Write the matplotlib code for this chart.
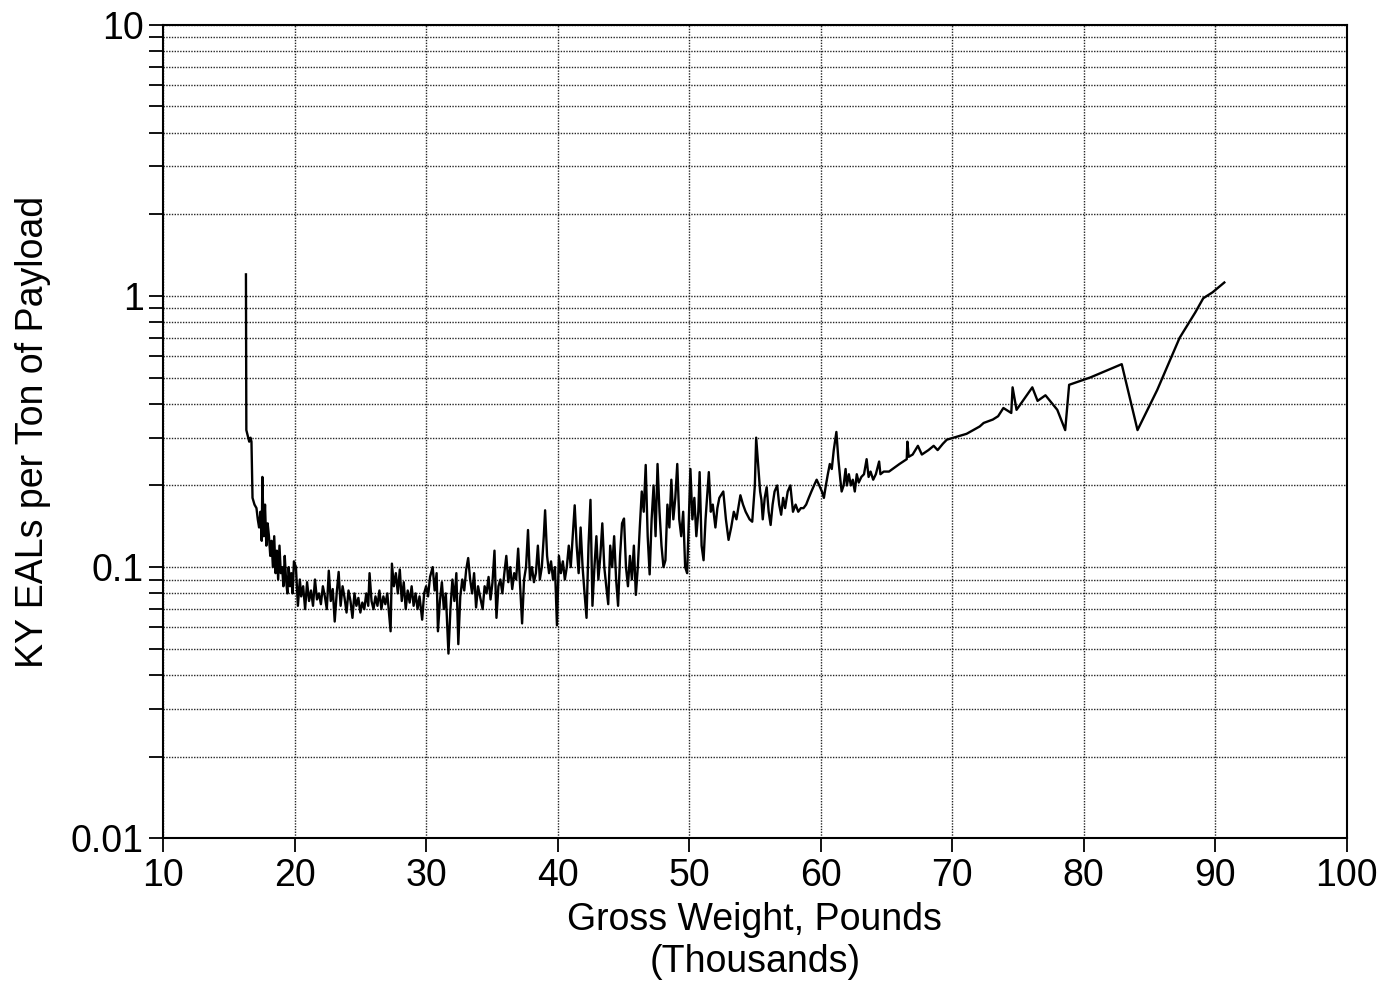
import matplotlib
matplotlib.use("Agg")
import matplotlib.pyplot as plt
from matplotlib.ticker import LogLocator, FixedLocator, NullFormatter

plt.rcParams['font.family'] = ['Liberation Sans', 'DejaVu Sans']

# gross weight (thousands of lb) and KY EALs per ton of payload
w_a = [16.3, 16.33, 16.4, 16.55, 16.65, 16.72, 16.8, 16.95, 17.1, 17.2, 17.3, 17.4, 17.5, 17.55,
       17.65, 17.75, 17.85, 17.95, 18.05, 18.15, 18.25, 18.35, 18.45, 18.55, 18.65, 18.75, 18.85,
       18.95, 19.05, 19.15, 19.25, 19.35, 19.45, 19.55, 19.65, 19.75, 19.85, 19.95]
e_a = [1.2, 0.32, 0.31, 0.29, 0.30, 0.29, 0.18, 0.17, 0.165, 0.15, 0.14, 0.16, 0.125, 0.215,
       0.13, 0.17, 0.12, 0.145, 0.13, 0.11, 0.125, 0.10, 0.13, 0.095, 0.115, 0.09, 0.12,
       0.095, 0.10, 0.085, 0.11, 0.09, 0.08, 0.10, 0.085, 0.095, 0.08, 0.105]

w_b = [20.1, 20.25, 20.4, 20.5, 20.65, 20.8, 20.95, 21.1, 21.25, 21.4, 21.55, 21.7, 21.85, 22.0,
       22.15, 22.3, 22.45, 22.6, 22.75, 22.9, 23.05, 23.2, 23.35, 23.5, 23.65, 23.8, 23.95, 24.1,
       24.25, 24.4, 24.55, 24.7, 24.85, 25.0, 25.15, 25.3, 25.45, 25.6, 25.7, 25.85, 26.0, 26.15,
       26.3, 26.45, 26.6, 26.75, 26.9, 27.05, 27.2, 27.3, 27.4, 27.55, 27.7, 27.85, 28.0]
e_b = [0.10, 0.072, 0.09, 0.078, 0.085, 0.07, 0.088, 0.075, 0.082, 0.072, 0.09, 0.076, 0.08, 0.073,
       0.085, 0.078, 0.07, 0.097, 0.075, 0.083, 0.063, 0.08, 0.096, 0.072, 0.085, 0.077, 0.068, 0.082,
       0.075, 0.065, 0.08, 0.072, 0.077, 0.068, 0.074, 0.07, 0.08, 0.072, 0.095, 0.075, 0.07, 0.078,
       0.072, 0.082, 0.07, 0.078, 0.073, 0.08, 0.066, 0.058, 0.103, 0.085, 0.095, 0.08, 0.098]

w_c = [28.15, 28.3, 28.45, 28.6, 28.75, 28.9, 29.05, 29.2, 29.35, 29.5, 29.7, 29.85, 30.0, 30.15,
       30.3, 30.5, 30.65, 30.8, 30.9, 31.05, 31.2, 31.35, 31.5, 31.7, 31.85, 32.0, 32.15, 32.3,
       32.45, 32.6, 32.75, 32.9, 33.05, 33.2, 33.35, 33.5, 33.65, 33.8, 33.95, 34.1, 34.3, 34.45,
       34.6, 34.75, 34.9, 35.05, 35.2, 35.35, 35.5, 35.65, 35.8, 35.95, 36.1, 36.25]
e_c = [0.075, 0.088, 0.07, 0.082, 0.074, 0.085, 0.072, 0.08, 0.07, 0.078, 0.064, 0.08, 0.085, 0.078,
       0.092, 0.10, 0.082, 0.095, 0.058, 0.075, 0.088, 0.07, 0.08, 0.048, 0.07, 0.09, 0.075, 0.095,
       0.052, 0.078, 0.09, 0.082, 0.098, 0.108, 0.09, 0.08, 0.095, 0.071, 0.085, 0.078, 0.07, 0.085,
       0.08, 0.092, 0.076, 0.088, 0.115, 0.065, 0.085, 0.09, 0.08, 0.095, 0.11, 0.088]

w_d = [36.4, 36.55, 36.7, 36.85, 37.0, 37.15, 37.3, 37.45, 37.6, 37.75, 37.9, 38.05, 38.2, 38.35,
       38.5, 38.65, 38.8, 38.95, 39.05, 39.2, 39.35, 39.5, 39.65, 39.8, 39.95, 40.1, 40.25, 40.4,
       40.55, 40.7, 40.85, 41.0, 41.15, 41.3, 41.45, 41.6, 41.75, 41.9, 42.05, 42.2, 42.35, 42.5,
       42.65, 42.8, 42.95, 43.1, 43.25, 43.4, 43.55, 43.7, 43.85, 44.0, 44.15, 44.3, 44.45, 44.6,
       44.75, 44.9, 45.05, 45.2, 45.35, 45.5, 45.65, 45.8, 45.95, 46.1]
e_d = [0.10, 0.083, 0.095, 0.09, 0.117, 0.085, 0.062, 0.09, 0.10, 0.137, 0.09, 0.10, 0.088, 0.095,
       0.12, 0.09, 0.10, 0.13, 0.162, 0.11, 0.095, 0.105, 0.09, 0.10, 0.061, 0.11, 0.095, 0.105,
       0.09, 0.10, 0.12, 0.10, 0.13, 0.169, 0.12, 0.095, 0.14, 0.10, 0.08, 0.065, 0.12, 0.177,
       0.072, 0.10, 0.13, 0.09, 0.11, 0.145, 0.10, 0.085, 0.073, 0.12, 0.10, 0.13, 0.09, 0.072,
       0.11, 0.145, 0.151, 0.10, 0.085, 0.11, 0.09, 0.12, 0.079, 0.10]

w_e = [46.25, 46.4, 46.55, 46.7, 46.85, 47.0, 47.15, 47.3, 47.45, 47.6, 47.75, 47.9, 48.05, 48.2,
       48.35, 48.5, 48.65, 48.8, 48.95, 49.1, 49.25, 49.4, 49.55, 49.7, 49.85, 50.0, 50.1, 50.25,
       50.4, 50.55, 50.7, 50.8, 50.95, 51.1, 51.25, 51.4, 51.5, 51.65, 51.8, 52.0, 52.15, 52.3]
e_e = [0.14, 0.19, 0.16, 0.238, 0.13, 0.094, 0.15, 0.20, 0.13, 0.24, 0.16, 0.12, 0.10, 0.106,
       0.17, 0.14, 0.21, 0.15, 0.18, 0.24, 0.15, 0.13, 0.16, 0.10, 0.095, 0.16, 0.23, 0.15,
       0.18, 0.13, 0.16, 0.224, 0.12, 0.106, 0.15, 0.19, 0.224, 0.16, 0.17, 0.14, 0.165, 0.18]

w_f = [52.6, 52.8, 53.0, 53.2, 53.4, 53.6, 53.9, 54.1, 54.3, 54.6, 54.8, 55.0, 55.1, 55.25, 55.4,
       55.5, 55.6, 55.75, 55.9, 56.05, 56.2, 56.35, 56.5, 56.7, 56.85, 57.0, 57.15, 57.3, 57.5,
       57.7, 57.9, 58.1, 58.3, 58.5, 58.7, 58.9, 59.1, 59.3, 59.5, 59.7, 59.9, 60.1, 60.25, 60.4,
       60.55, 60.7, 60.85, 61.0, 61.2, 61.35, 61.5, 61.6, 61.75, 61.9, 62.0, 62.15, 62.3, 62.45,
       62.6, 62.75, 62.9, 63.1, 63.3, 63.5, 63.65, 63.8, 64.0, 64.2, 64.45, 64.55, 64.8, 65.2]
e_f = [0.19, 0.15, 0.126, 0.14, 0.16, 0.15, 0.184, 0.17, 0.16, 0.15, 0.147, 0.20, 0.30, 0.24, 0.19,
       0.177, 0.15, 0.18, 0.197, 0.16, 0.143, 0.17, 0.19, 0.20, 0.17, 0.156, 0.18, 0.165, 0.19,
       0.20, 0.16, 0.17, 0.16, 0.165, 0.165, 0.17, 0.18, 0.19, 0.20, 0.21, 0.20, 0.19, 0.18, 0.20,
       0.22, 0.24, 0.23, 0.27, 0.315, 0.25, 0.21, 0.19, 0.20, 0.23, 0.20, 0.22, 0.20, 0.21,
       0.19, 0.22, 0.205, 0.215, 0.22, 0.25, 0.215, 0.225, 0.21, 0.22, 0.245, 0.22, 0.225, 0.225]

w_g = [66.0, 66.55, 66.6, 66.7, 67.0, 67.4, 67.7, 68.2, 68.6, 68.9, 69.3, 69.6, 70.1, 70.6, 71.1,
       71.6, 72.1, 72.4, 73.1, 73.5, 73.9, 74.5, 74.6, 74.9, 76.1, 76.5, 77.1, 78.0, 78.6, 78.9,
       80.5, 82.9, 84.1, 85.6, 87.3, 88.5, 89.1, 89.8, 90.7]
e_g = [0.24, 0.25, 0.29, 0.255, 0.26, 0.28, 0.26, 0.27, 0.28, 0.27, 0.285, 0.295, 0.30, 0.305, 0.31,
       0.32, 0.33, 0.34, 0.35, 0.36, 0.386, 0.37, 0.46, 0.38, 0.46, 0.41, 0.43, 0.38, 0.32, 0.47,
       0.50, 0.56, 0.32, 0.45, 0.70, 0.87, 0.98, 1.03, 1.12]

weight = w_a + w_b + w_c + w_d + w_e + w_f + w_g
eals = e_a + e_b + e_c + e_d + e_e + e_f + e_g

fig = plt.figure(figsize=(13.94, 9.84), dpi=100)
ax = fig.add_axes([0.117, 0.148, 0.849, 0.827])

ax.plot(weight, eals, color='black', linewidth=1.7)

ax.set_yscale('log')
ax.set_xlim(10, 100)
ax.set_ylim(0.01, 10)
ax.xaxis.set_major_locator(FixedLocator(range(10, 101, 10)))
ax.set_yticks([0.01, 0.1, 1, 10])
ax.set_yticklabels(['0.01', '0.1', '1', '10'])
ax.yaxis.set_minor_locator(LogLocator(base=10, subs=range(2, 10)))
ax.yaxis.set_minor_formatter(NullFormatter())

ax.grid(True, which='major', axis='both', color='0.15', linestyle=(0, (1, 1)), linewidth=1.0)
ax.grid(True, which='minor', axis='y', color='0.15', linestyle=(0, (1, 1)), linewidth=1.0)

ax.tick_params(axis='both', which='both', direction='out', length=10, width=1.3,
               labelsize=27, pad=4)
for s in ax.spines.values():
    s.set_linewidth(1.5)

ax.set_xlabel('Gross Weight, Pounds\n(Thousands)', fontsize=27, linespacing=1.2, labelpad=6)
ax.set_ylabel('KY EALs per Ton of Payload', fontsize=27, labelpad=14)

fig.savefig('out.png', dpi=100)
